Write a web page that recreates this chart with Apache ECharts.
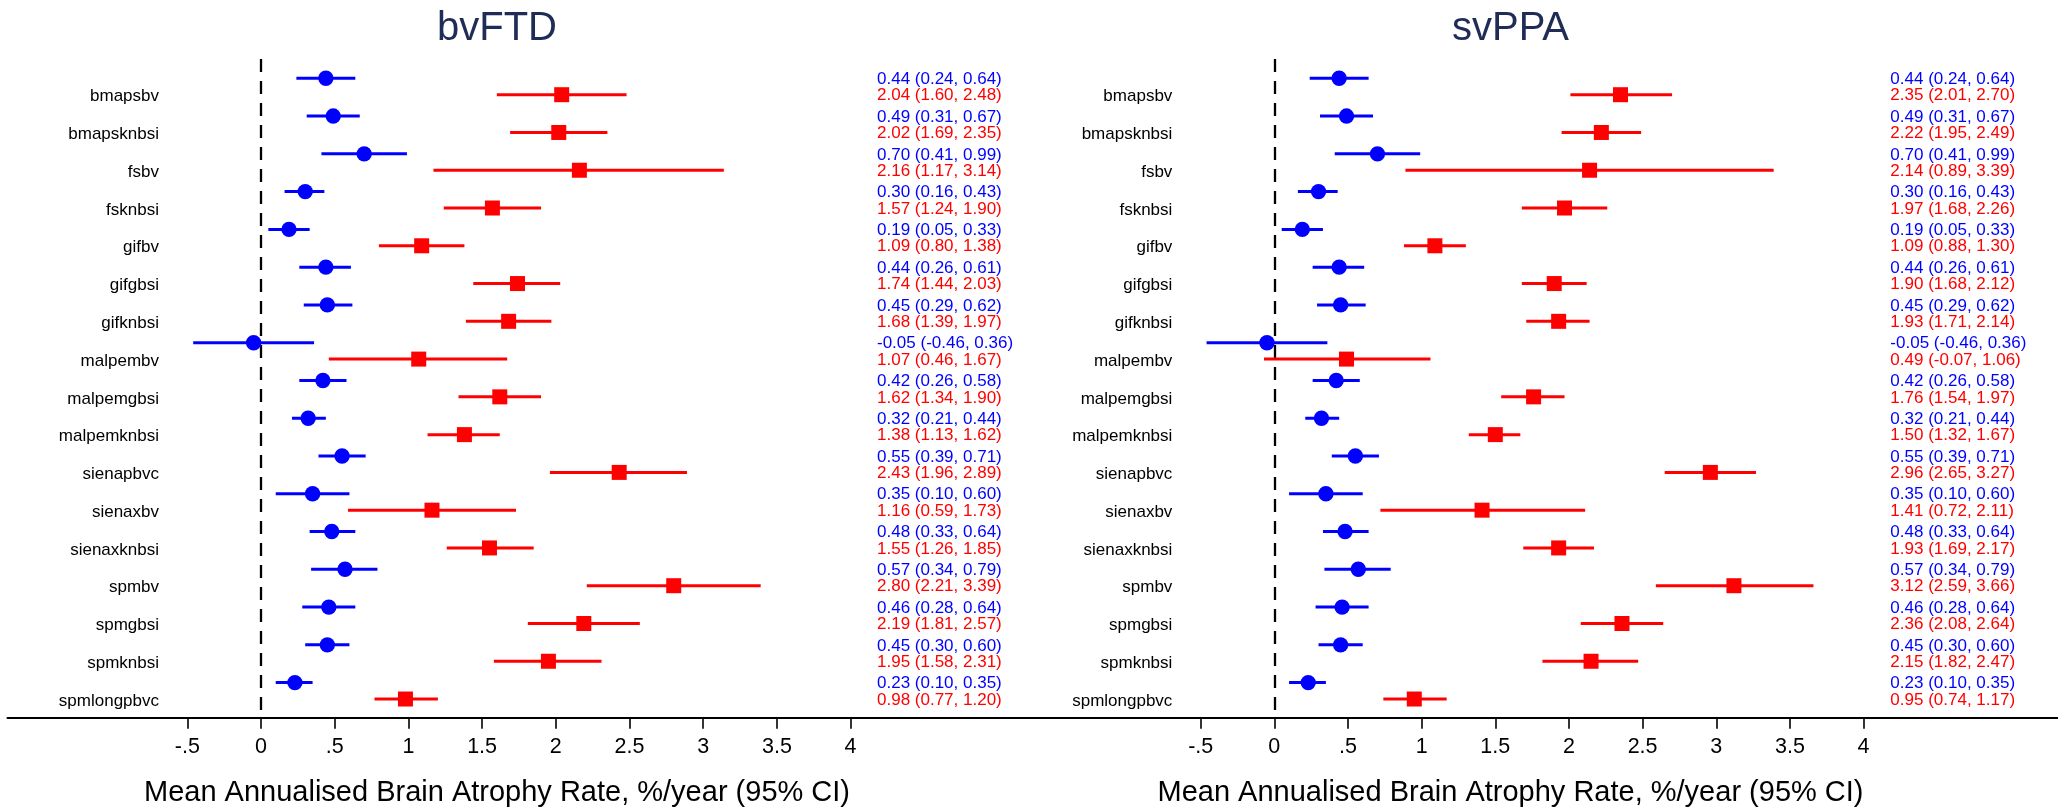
<!DOCTYPE html>
<html>
<head>
<meta charset="utf-8">
<script src="https://cdn.jsdelivr.net/npm/echarts@6/dist/echarts.min.js"></script>
<style>
  html, body { margin: 0; padding: 0; background: #ffffff; }
  #chart { width: 2058px; height: 811px; }
</style>
</head>
<body>
<div id="chart"></div>
<script>
// ---- Data ----------------------------------------------------------------
const categories = [
  'bmapsbv', 'bmapsknbsi', 'fsbv', 'fsknbsi', 'gifbv', 'gifgbsi', 'gifknbsi',
  'malpembv', 'malpemgbsi', 'malpemknbsi', 'sienapbvc', 'sienaxbv',
  'sienaxknbsi', 'spmbv', 'spmgbsi', 'spmknbsi', 'spmlongpbvc'
];

const panelTitles = ['bvFTD', 'svPPA'];

// Controls (blue), shared by both panels
const controlMean = [0.44, 0.49, 0.70, 0.30, 0.19, 0.44, 0.45, -0.05, 0.42, 0.32, 0.55, 0.35, 0.48, 0.57, 0.46, 0.45, 0.23];
const controlLow  = [0.24, 0.31, 0.41, 0.16, 0.05, 0.26, 0.29, -0.46, 0.26, 0.21, 0.39, 0.10, 0.33, 0.34, 0.28, 0.30, 0.10];
const controlHigh = [0.64, 0.67, 0.99, 0.43, 0.33, 0.61, 0.62, 0.36, 0.58, 0.44, 0.71, 0.60, 0.64, 0.79, 0.64, 0.60, 0.35];

// bvFTD patients (red)
const bvftdMean = [2.04, 2.02, 2.16, 1.57, 1.09, 1.74, 1.68, 1.07, 1.62, 1.38, 2.43, 1.16, 1.55, 2.80, 2.19, 1.95, 0.98];
const bvftdLow  = [1.60, 1.69, 1.17, 1.24, 0.80, 1.44, 1.39, 0.46, 1.34, 1.13, 1.96, 0.59, 1.26, 2.21, 1.81, 1.58, 0.77];
const bvftdHigh = [2.48, 2.35, 3.14, 1.90, 1.38, 2.03, 1.97, 1.67, 1.90, 1.62, 2.89, 1.73, 1.85, 3.39, 2.57, 2.31, 1.20];

// svPPA patients (red)
const svppaMean = [2.35, 2.22, 2.14, 1.97, 1.09, 1.90, 1.93, 0.49, 1.76, 1.50, 2.96, 1.41, 1.93, 3.12, 2.36, 2.15, 0.95];
const svppaLow  = [2.01, 1.95, 0.89, 1.68, 0.88, 1.68, 1.71, -0.07, 1.54, 1.32, 2.65, 0.72, 1.69, 2.59, 2.08, 1.82, 0.74];
const svppaHigh = [2.70, 2.49, 3.39, 2.26, 1.30, 2.12, 2.14, 1.06, 1.97, 1.67, 3.27, 2.11, 2.17, 3.66, 2.64, 2.47, 1.17];

const tickValues = [-0.5, 0, 0.5, 1, 1.5, 2, 2.5, 3, 3.5, 4];
const tickLabels = ['-.5', '0', '.5', '1', '1.5', '2', '2.5', '3', '3.5', '4'];
const axisTitle = 'Mean Annualised Brain Atrophy Rate, %/year (95% CI)';

// ---- Layout --------------------------------------------------------------
const BLUE = '#0000ff';
const RED = '#ff0000';
const TITLE_COLOR = '#1f2d56';
const FONT = '"Liberation Sans", Arial, Helvetica, sans-serif';

const PX_PER_UNIT = 147.4;          // horizontal pixels per 1 %/year
const ZERO_X = [261, 1274.5];       // pixel x of the zero line in each panel
const X_MIN = -1.72;
const X_MAX = [5.28, 5.32];
const GRID_TOP = 59;
const GRID_HEIGHT = 658.7;
const ROW_H = 37.77;                // pixels per category row
const RED_ROW = 35.7 / ROW_H;       // patient row offset inside a category band
const BLUE_ROW = 19.3 / ROW_H;      // control row offset inside a category band
const Y_MAX = GRID_HEIGHT / ROW_H;

const LABEL_DX = -102;              // category label right edge, from zero line
const VALUE_DX = 616;               // value column left edge, from zero line
const TITLE_DX = 236;               // panel title centre, from zero line

const fmt = v => v.toFixed(2);

function buildRows(pMean, pLow, pHigh) {
  const rows = [];
  categories.forEach((c, i) => {
    rows.push([controlMean[i], controlLow[i], controlHigh[i], i + BLUE_ROW, 0, i]);
    rows.push([pMean[i], pLow[i], pHigh[i], i + RED_ROW, 1, i]);
  });
  return rows;
}

function renderItem(params, api) {
  const mean = api.value(0), lo = api.value(1), hi = api.value(2);
  const y = api.value(3), grp = api.value(4), idx = api.value(5);
  const color = grp === 0 ? BLUE : RED;
  const pL = api.coord([lo, y]);
  const pH = api.coord([hi, y]);
  const pM = api.coord([mean, y]);
  const zx = api.coord([0, y])[0];
  const children = [
    { type: 'line', shape: { x1: pL[0], y1: pL[1], x2: pH[0], y2: pH[1] },
      style: { stroke: color, lineWidth: 3 } },
    grp === 0
      ? { type: 'circle', shape: { cx: pM[0], cy: pM[1], r: 7.7 }, style: { fill: color } }
      : { type: 'rect', shape: { x: pM[0] - 7.5, y: pM[1] - 7.5, width: 15, height: 15 }, style: { fill: color } },
    { type: 'text',
      style: { x: zx + VALUE_DX, y: pM[1] + 1,
               text: fmt(mean) + ' (' + fmt(lo) + ', ' + fmt(hi) + ')',
               fill: color, fontSize: 17, fontFamily: FONT,
               align: 'left', verticalAlign: 'middle' } }
  ];
  if (grp === 1) {
    children.push({ type: 'text',
      style: { x: zx + LABEL_DX, y: pM[1] + 2, text: categories[idx],
               fill: '#000', fontSize: 17, fontFamily: FONT,
               align: 'right', verticalAlign: 'middle' } });
  }
  return { type: 'group', children };
}

const panels = [
  buildRows(bvftdMean, bvftdLow, bvftdHigh),
  buildRows(svppaMean, svppaLow, svppaHigh)
];

const grids = [], xAxes = [], yAxes = [], series = [], graphics = [];
panels.forEach((rows, k) => {
  const left = ZERO_X[k] + X_MIN * PX_PER_UNIT;
  grids.push({ left: left, top: GRID_TOP, width: (X_MAX[k] - X_MIN) * PX_PER_UNIT, height: GRID_HEIGHT });
  xAxes.push({
    gridIndex: k, type: 'value', min: X_MIN, max: X_MAX[k],
    splitLine: { show: false },
    axisLine: { onZero: false, lineStyle: { color: '#000', width: 2 } },
    axisTick: { customValues: tickValues, length: 11, lineStyle: { color: '#000', width: 1.6 } },
    axisLabel: {
      customValues: tickValues, margin: 18, fontSize: 21.5, color: '#000', fontFamily: FONT,
      formatter: v => {
        const j = tickValues.findIndex(t => Math.abs(t - v) < 1e-9);
        return j >= 0 ? tickLabels[j] : '';
      }
    }
  });
  yAxes.push({ gridIndex: k, type: 'value', inverse: true, min: 0, max: Y_MAX, show: false });
  series.push({
    type: 'custom', xAxisIndex: k, yAxisIndex: k, data: rows, renderItem: renderItem, z: 3,
    animation: false,
    markLine: {
      silent: true, symbol: 'none', label: { show: false }, z: 1,
      lineStyle: { type: [13, 9], color: '#000', width: 2.3 },
      data: [{ xAxis: 0 }]
    }
  });
  graphics.push({
    type: 'text', x: ZERO_X[k] + TITLE_DX, y: 29, z: 10,
    style: { text: panelTitles[k], fill: TITLE_COLOR, fontSize: 40, fontFamily: FONT,
             align: 'center', verticalAlign: 'middle' }
  });
  graphics.push({
    type: 'text', x: ZERO_X[k] + TITLE_DX, y: 793, z: 10,
    style: { text: axisTitle, fill: '#000', fontSize: 29, fontFamily: FONT,
             align: 'center', verticalAlign: 'middle' }
  });
});

const chart = echarts.init(document.getElementById('chart'), null, { renderer: 'canvas' });
chart.setOption({
  animation: false,
  backgroundColor: '#ffffff',
  grid: grids,
  xAxis: xAxes,
  yAxis: yAxes,
  series: series,
  graphic: graphics
});
</script>
</body>
</html>
